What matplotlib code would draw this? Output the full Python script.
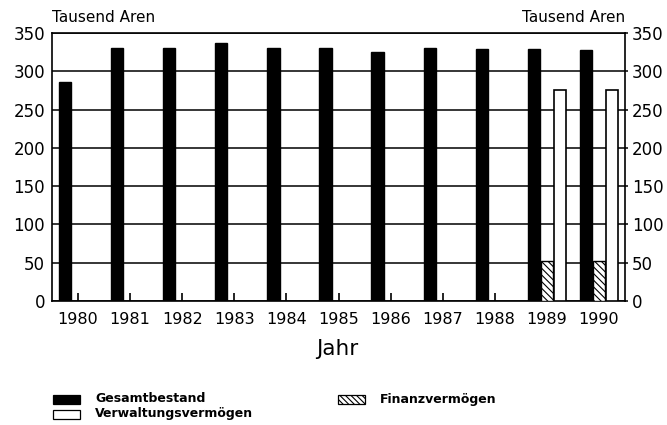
import numpy as np
import matplotlib
matplotlib.use('Agg')
import matplotlib.pyplot as plt
from matplotlib.patches import Rectangle

plt.rcParams['font.family'] = ['DejaVu Sans']
plt.rcParams['hatch.linewidth'] = 0.8

years = ['1980', '1981', '1982', '1983', '1984', '1985', '1986', '1987', '1988', '1989', '1990']
gesamt = [286, 330, 330, 337, 330, 331, 325, 331, 329, 329, 328]
finanz = [0, 0, 0, 0, 0, 0, 0, 0, 0, 52, 52]
verwaltung = [0, 0, 0, 0, 0, 0, 0, 0, 0, 275, 275]
yticks = [0, 50, 100, 150, 200, 250, 300, 350]

W, H = 667, 425
fig = plt.figure(figsize=(W / 100, H / 100), dpi=100)
ax = fig.add_axes([52 / W, (H - 301) / H, 573 / W, 268 / H])

x = np.arange(len(years))
bw = 0.235
ax.bar(x - 0.25, gesamt, bw, color='black', edgecolor='black', zorder=3)
for xi, f, v in zip(x, finanz, verwaltung):
    if f > 0:
        ax.bar(xi, f, bw, color='white', edgecolor='black', hatch='\\\\\\\\\\',
               linewidth=1.0, zorder=3)
    if v > 0:
        ax.bar(xi + 0.245, v, bw, color='white', edgecolor='black',
               linewidth=1.2, zorder=3)

ax.set_xlim(-0.5, len(years) - 0.5)
ax.set_ylim(0, 350)
ax.set_yticks(yticks)
ax.set_xticks(x)
ax.set_xticklabels(years)
ax.yaxis.grid(True, color='black', linewidth=1.1)
ax.set_axisbelow(True)
for s in ax.spines.values():
    s.set_linewidth(1.2)

ax.tick_params(axis='x', direction='in', length=6, width=1.2, pad=8, labelsize=11.5)
ax.tick_params(axis='y', left=False, right=True, labelright=True, length=2,
               width=1.1, pad=3, labelsize=12)

fig.text(52 / W, 1 - 18 / H, 'Tausend Aren', fontsize=11, ha='left', va='center')
fig.text(625 / W, 1 - 18 / H, 'Tausend Aren', fontsize=11, ha='right', va='center')
fig.text(337 / W, 1 - 349 / H, 'Jahr', fontsize=15.5, ha='center', va='center')

# legend
def legend_item(x0, y0, label, fc, hatch=None):
    fig.patches.append(Rectangle((x0 / W, 1 - (y0 + 4.5) / H), 27 / W, 9 / H,
                                 transform=fig.transFigure, facecolor=fc,
                                 edgecolor='black', hatch=hatch, linewidth=0.9))
    fig.text((x0 + 42) / W, 1 - y0 / H, label, fontsize=9, fontweight='bold',
             ha='left', va='center')

legend_item(53, 399, 'Gesamtbestand', 'black')
legend_item(338, 399, 'Finanzvermögen', 'white', '\\\\\\\\\\\\')
legend_item(53, 414, 'Verwaltungsvermögen', 'white')

fig.savefig('out.png', dpi=100)
